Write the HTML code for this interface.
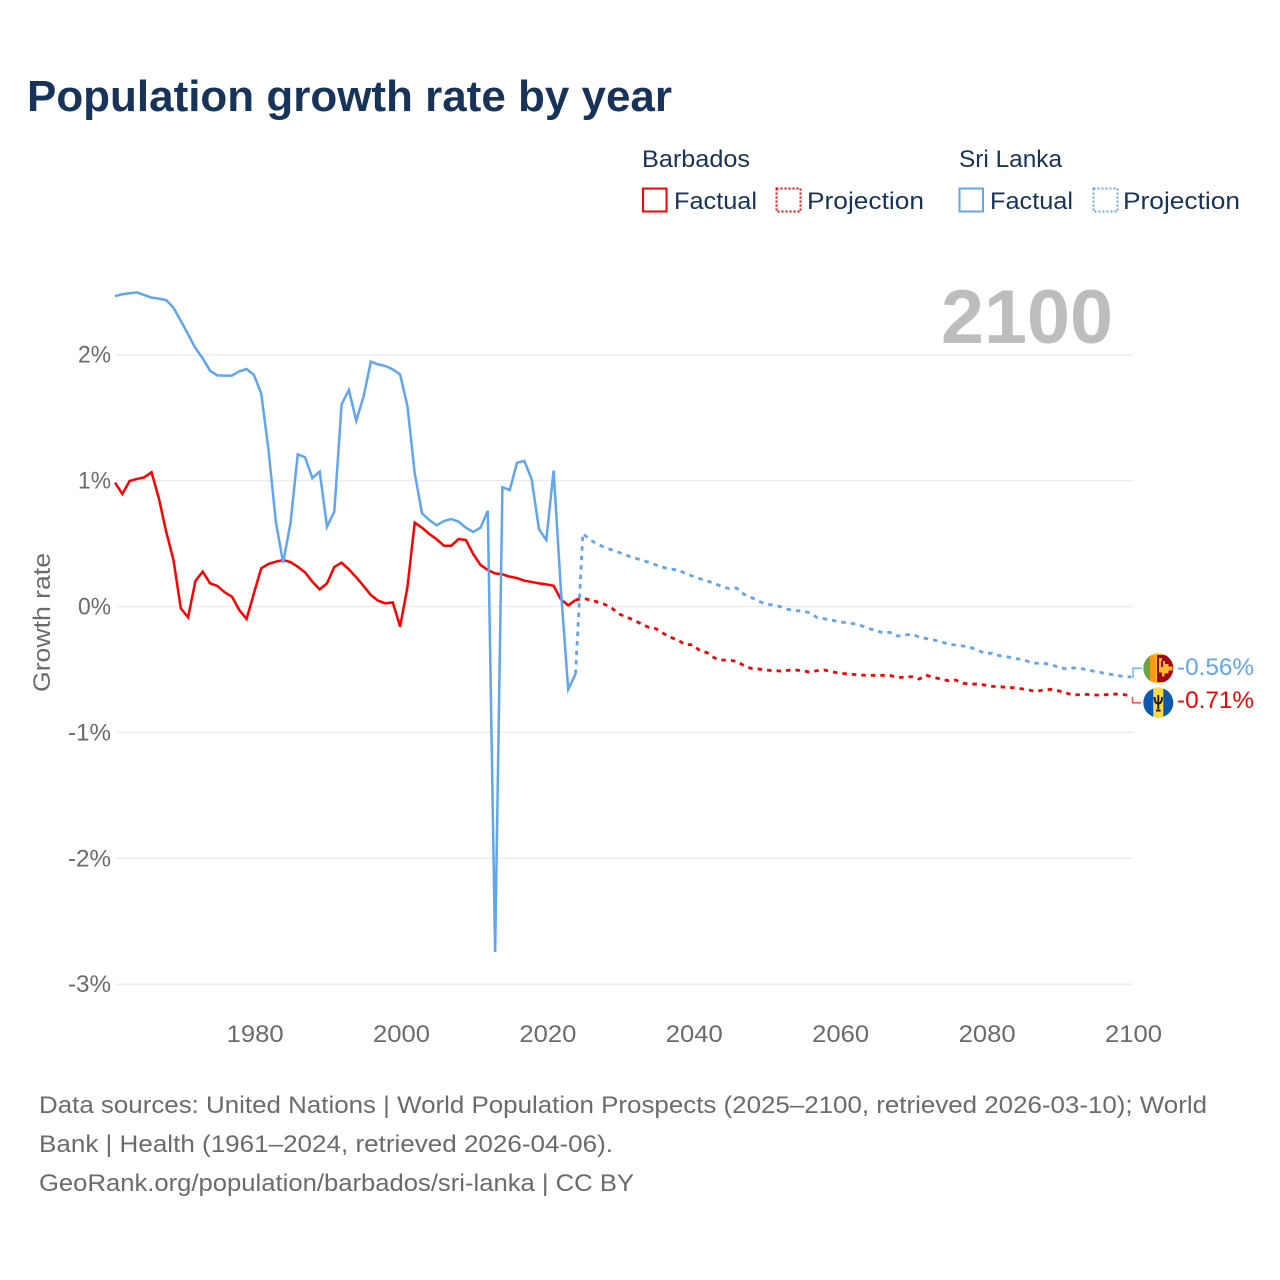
<!DOCTYPE html>
<html lang="en">
<head>
<meta charset="utf-8">
<title>Population growth rate by year</title>
<style>
html,body{margin:0;padding:0;background:#fff}
svg{display:block}
text{font-family:"Liberation Sans",sans-serif}
</style>
</head>
<body>
<svg id="chart" xmlns="http://www.w3.org/2000/svg" width="1280" height="1280" viewBox="0 0 1280 1280">
<defs>
<clipPath id="clip-lk"><circle cx="1158.3" cy="668.3" r="15"/></clipPath>
<clipPath id="clip-bb"><circle cx="1158.3" cy="702.7" r="15"/></clipPath>
</defs>
<rect width="1280" height="1280" fill="#fff"/>
<text x="27" y="111" font-size="44" font-weight="700" fill="#17335a" textLength="645" lengthAdjust="spacingAndGlyphs">Population growth rate by year</text>

<g font-size="24" fill="#17335a">
<text x="642" y="167" textLength="108" lengthAdjust="spacingAndGlyphs">Barbados</text>
<text x="959" y="167" textLength="103" lengthAdjust="spacingAndGlyphs">Sri Lanka</text>
<rect x="643" y="188.5" width="23.5" height="23" fill="none" stroke="#ff0000" stroke-width="2"/>
<text x="674" y="209" textLength="83" lengthAdjust="spacingAndGlyphs">Factual</text>
<rect x="776.5" y="188.5" width="24" height="23" fill="none" stroke="#ff0000" stroke-width="2" stroke-dasharray="2 2"/>
<text x="807" y="209" textLength="117" lengthAdjust="spacingAndGlyphs">Projection</text>
<rect x="959.5" y="188.5" width="23.5" height="23" fill="none" stroke="#5fa6ee" stroke-width="2"/>
<text x="990" y="209" textLength="83" lengthAdjust="spacingAndGlyphs">Factual</text>
<rect x="1093.5" y="188.5" width="24" height="23" fill="none" stroke="#5fa6ee" stroke-width="2" stroke-dasharray="2 2"/>
<text x="1123" y="209" textLength="117" lengthAdjust="spacingAndGlyphs">Projection</text>
</g>

<g id="grid"></g>
<g id="y-ticks"></g>
<g id="x-ticks"></g>

<text x="941" y="343" font-size="76" font-weight="700" fill="#bdbdbd" textLength="172" lengthAdjust="spacingAndGlyphs">2100</text>
<text transform="translate(50,622.5) rotate(-90)" text-anchor="middle" font-size="24" fill="#6b6b6b" textLength="139" lengthAdjust="spacingAndGlyphs">Growth rate</text>

<g id="series"></g>

<polyline points="1131.5,677 1133,677 1133,668.3 1142,668.3" fill="none" stroke="#5fa6ee" stroke-width="1.5" opacity=".85"/>
<polyline points="1132.5,696.8 1132.5,702.7 1141,702.7" fill="none" stroke="#ff0000" stroke-width="1.5" opacity=".7"/>

<g clip-path="url(#clip-lk)">
<rect x="1143" y="653" width="31" height="31" fill="#ffbe29"/>
<rect x="1143.3" y="655" width="6.7" height="27" fill="#6da544"/>
<rect x="1150" y="655" width="5.7" height="27" fill="#ff9811"/>
<rect x="1157" y="655" width="16.5" height="27" fill="#a2001d"/>
<path d="M1159 658h3v3h3v3h3.5v2.5h4v4h-4v3h-4v3h-2.5v-4h-3z" fill="#ffbe29"/>
<rect x="1161" y="661" width="2" height="6" fill="#a2001d"/>
</g>
<g clip-path="url(#clip-bb)">
<rect x="1143" y="687" width="31" height="31" fill="#0f58b0"/>
<rect x="1153.3" y="687" width="10" height="31" fill="#ffda44"/>
<path d="M1158.3 695v14M1154.6 697c0 5 1.5 6.6 3.7 6.6s3.7-1.6 3.7-6.6M1156 710.5h4.6" fill="none" stroke="#1a1a1a" stroke-width="1.9"/>
</g>

<text id="label-lk" x="1177" y="675" font-size="24" fill="#5fa6ee" textLength="77" lengthAdjust="spacingAndGlyphs"></text>
<text id="label-bb" x="1177" y="708" font-size="24" fill="#ff0000" textLength="77" lengthAdjust="spacingAndGlyphs"></text>

<g font-size="24" fill="#6b6b6b">
<text x="39" y="1113" textLength="1168" lengthAdjust="spacingAndGlyphs">Data sources: United Nations | World Population Prospects (2025–2100, retrieved 2026-03-10); World</text>
<text x="39" y="1152" textLength="574" lengthAdjust="spacingAndGlyphs">Bank | Health (1961–2024, retrieved 2026-04-06).</text>
<text x="39" y="1191" textLength="595" lengthAdjust="spacingAndGlyphs">GeoRank.org/population/barbados/sri-lanka | CC BY</text>
</g>
</svg>

<script>
const factualStartYear = 1961;
const projectionStartYear = 2025;
const yTickValues = [2, 1, 0, -1, -2, -3];
const yTickLabels = ["2%", "1%", "0%", "-1%", "-2%", "-3%"];
const xTickYears = [1980, 2000, 2020, 2040, 2060, 2080, 2100];
const endLabelBarbados = "-0.71%";
const endLabelSriLanka = "-0.56%";

const barbadosFactual = [0.984,0.894,0.997,1.013,1.026,1.066,0.859,0.594,0.369,-0.015,-0.086,0.203,0.277,0.184,0.163,0.113,0.078,-0.028,-0.099,0.105,0.303,0.338,0.356,0.369,0.353,0.316,0.271,0.197,0.136,0.184,0.314,0.348,0.295,0.232,0.163,0.091,0.046,0.025,0.033,-0.160,0.152,0.666,0.626,0.576,0.534,0.483,0.483,0.536,0.528,0.417,0.330,0.290,0.263,0.256,0.237,0.226,0.205,0.195,0.184,0.176,0.165,0.057,0.009,0.052];

const barbadosProjection = [0.065,0.052,0.036,0.017,-0.015,-0.060,-0.086,-0.107,-0.139,-0.165,-0.176,-0.213,-0.245,-0.266,-0.303,-0.303,-0.351,-0.367,-0.409,-0.425,-0.425,-0.436,-0.467,-0.491,-0.496,-0.504,-0.510,-0.512,-0.507,-0.504,-0.510,-0.520,-0.510,-0.504,-0.518,-0.528,-0.534,-0.539,-0.544,-0.547,-0.547,-0.547,-0.547,-0.563,-0.563,-0.557,-0.576,-0.547,-0.563,-0.576,-0.589,-0.584,-0.610,-0.616,-0.616,-0.624,-0.634,-0.637,-0.642,-0.645,-0.653,-0.663,-0.674,-0.663,-0.658,-0.669,-0.684,-0.703,-0.700,-0.698,-0.703,-0.703,-0.698,-0.695,-0.700,-0.708];

const sriLankaFactual = [2.466,2.480,2.488,2.495,2.474,2.453,2.445,2.434,2.373,2.270,2.162,2.053,1.971,1.873,1.836,1.834,1.834,1.868,1.886,1.840,1.693,1.243,0.674,0.348,0.660,1.209,1.185,1.020,1.071,0.634,0.753,1.606,1.720,1.476,1.667,1.945,1.923,1.910,1.884,1.844,1.593,1.058,0.740,0.687,0.645,0.679,0.695,0.674,0.626,0.592,0.626,0.761,-2.745,0.947,0.925,1.142,1.156,1.010,0.613,0.528,1.079,0.130,-0.658,-0.536];

const sriLankaProjection = [0.581,0.528,0.496,0.470,0.449,0.428,0.406,0.388,0.369,0.351,0.330,0.311,0.295,0.293,0.263,0.242,0.221,0.203,0.184,0.158,0.142,0.147,0.099,0.073,0.044,0.020,0.012,-0.001,-0.022,-0.033,-0.036,-0.049,-0.086,-0.097,-0.107,-0.120,-0.128,-0.136,-0.150,-0.173,-0.189,-0.208,-0.205,-0.234,-0.226,-0.221,-0.242,-0.255,-0.266,-0.279,-0.300,-0.306,-0.314,-0.324,-0.346,-0.372,-0.372,-0.391,-0.398,-0.412,-0.420,-0.438,-0.451,-0.451,-0.459,-0.483,-0.494,-0.488,-0.491,-0.502,-0.515,-0.526,-0.536,-0.547,-0.555,-0.560];

const SVGNS = "http://www.w3.org/2000/svg";
function xScale(year) { return 115 + (year - 1961) * 7.31; }
function tickX(year) { return 116 + (year - 1961) * 7.32; }
function yScale(value) { return 606.5 - value * 125.9; }
function tickWidth(label) { return label.length === 2 ? 33 : 43; }

const gridGroup = document.getElementById("grid");
const yTickGroup = document.getElementById("y-ticks");
yTickValues.forEach(function (v, i) {
  const line = document.createElementNS(SVGNS, "line");
  
  
  line.setAttribute("x1", 116);
  line.setAttribute("x2", 1133);
  line.setAttribute("y1", yScale(v));
  line.setAttribute("y2", yScale(v));
  line.setAttribute("stroke", "#ececec");
  line.setAttribute("stroke-width", "1.5");
  gridGroup.appendChild(line);

  const t = document.createElementNS(SVGNS, "text");
  
  
  t.setAttribute("x", 111 - tickWidth(yTickLabels[i]));
  t.setAttribute("y", yScale(v) + 8);
  t.setAttribute("font-size", "24");
  t.setAttribute("fill", "#6b6b6b");
  t.setAttribute("textLength", tickWidth(yTickLabels[i]));
  t.setAttribute("lengthAdjust", "spacingAndGlyphs");
  t.textContent = yTickLabels[i];
  yTickGroup.appendChild(t);
});

const xTickGroup = document.getElementById("x-ticks");
xTickYears.forEach(function (yr) {
  const t = document.createElementNS(SVGNS, "text");
  
  
  t.setAttribute("x", tickX(yr) - 28.5);
  t.setAttribute("y", 1042);
  t.setAttribute("font-size", "24");
  t.setAttribute("fill", "#6b6b6b");
  t.setAttribute("textLength", "57");
  t.setAttribute("lengthAdjust", "spacingAndGlyphs");
  t.textContent = String(yr);
  xTickGroup.appendChild(t);
});

function linePath(values, startYear, previous) {
  let d = "";
  if (previous) {
    d = "M" + xScale(startYear - 1).toFixed(2) + " " + yScale(previous).toFixed(2);
  }
  values.forEach(function (v, i) {
    d += (d ? "L" : "M") + xScale(startYear + i).toFixed(2) + " " + yScale(v).toFixed(2);
  });
  return d;
}

const seriesGroup = document.getElementById("series");
function addSeries(pathData, color, dashed, name) {
  const p = document.createElementNS(SVGNS, "path");
  
  
  p.setAttribute("d", pathData);
  p.setAttribute("fill", "none");
  p.setAttribute("stroke", color);
  p.setAttribute("stroke-width", dashed ? "2.8" : "2.5");
  p.setAttribute("stroke-linejoin", "miter");
  if (dashed) { p.setAttribute("stroke-dasharray", "4.5 5"); }
  seriesGroup.appendChild(p);
}
addSeries(linePath(barbadosFactual, factualStartYear), "#ff0000", false, "line-barbados-factual");
addSeries(linePath(barbadosProjection, projectionStartYear, barbadosFactual[barbadosFactual.length - 1]), "#ff0000", true, "line-barbados-projection");
addSeries(linePath(sriLankaFactual, factualStartYear), "#5fa6ee", false, "line-sri-lanka-factual");
addSeries(linePath(sriLankaProjection, projectionStartYear, sriLankaFactual[sriLankaFactual.length - 1]), "#5fa6ee", true, "line-sri-lanka-projection");

document.getElementById("label-lk").textContent = endLabelSriLanka;
document.getElementById("label-bb").textContent = endLabelBarbados;
</script>
</body>
</html>
